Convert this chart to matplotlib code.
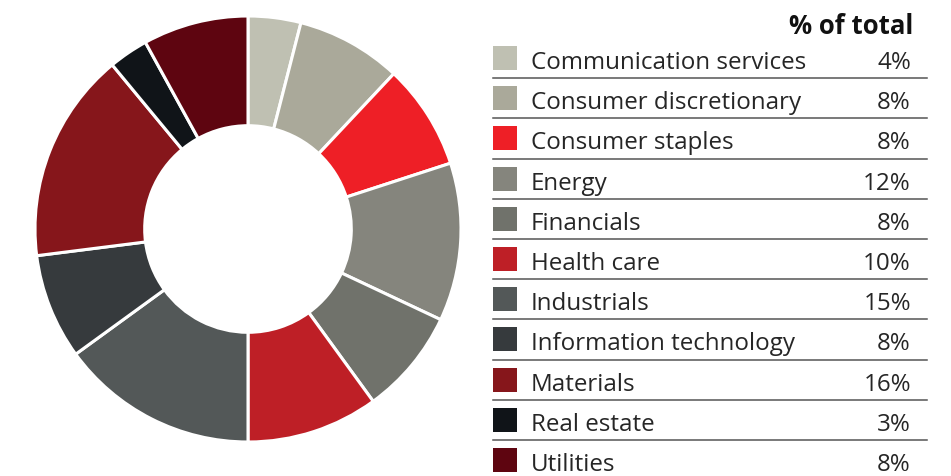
import numpy as np
import matplotlib.pyplot as plt
from matplotlib.patches import Rectangle

sectors = ['Communication services', 'Consumer discretionary', 'Consumer staples',
           'Energy', 'Financials', 'Health care', 'Industrials',
           'Information technology', 'Materials', 'Real estate', 'Utilities']
weights = [4, 8, 8, 12, 8, 10, 15, 8, 16, 3, 8]
colors = ['#BFC0B2', '#AAA99A', '#EE1F26', '#85857D', '#70726B', '#BE1F26',
          '#535858', '#363A3D', '#86161B', '#101418', '#5E0510']

plt.rcParams['font.family'] = ['Open Sans', 'DejaVu Sans']

W, H = 951, 477
fig = plt.figure(figsize=(W / 100, H / 100), dpi=100)

# donut, pixel box of the ring in the reference
cx, cy, r = 248, 230, 213
ax = fig.add_axes([(cx - r) / W, (H - cy - r) / H, 2 * r / W, 2 * r / H])
ax.pie(weights, colors=colors, startangle=90, counterclock=False,
       wedgeprops=dict(width=0.515, edgecolor='white', linewidth=2.2))
ax.set_xlim(-1, 1)
ax.set_ylim(-1, 1)
ax.set_aspect('equal')
ax.axis('off')

# legend table drawn in pixel coordinates
lg = fig.add_axes([0, 0, 1, 1])
lg.set_xlim(0, W)
lg.set_ylim(H, 0)
lg.axis('off')

lg.text(913, 23, '% of total', ha='right', va='center_baseline', fontsize=18.5,
        fontweight='bold', color='#111111')

row0, step = 59, 40.2
for i, (name, val, col) in enumerate(zip(sectors, weights, colors)):
    y = row0 + i * step
    lg.add_patch(Rectangle((493, y - 12), 24, 24, color=col, lw=0))
    lg.text(531, y + 1, name, ha='left', va='center_baseline', fontsize=17.4,
            color='#262626')
    lg.text(911, y + 1, f'{val}%', ha='right', va='center_baseline', fontsize=17.4,
            color='#262626')
    if i < len(sectors) - 1:
        ly = y + step / 2
        lg.plot([493, 927], [ly, ly], color='#555555', lw=1.1)

fig.savefig('out.png', dpi=100)
